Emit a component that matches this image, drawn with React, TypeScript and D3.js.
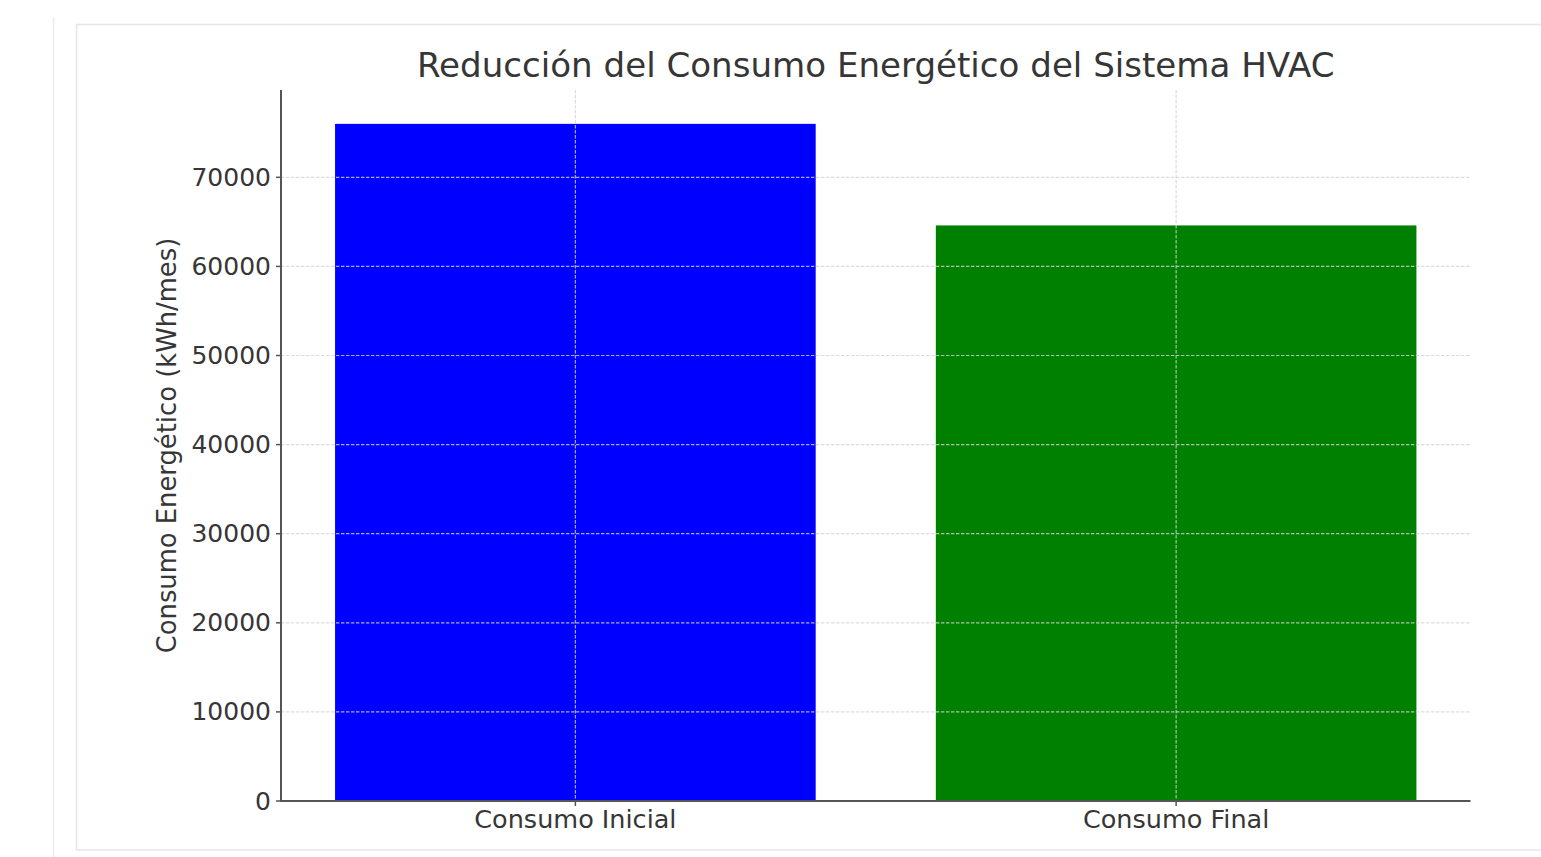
import React from "react";
import * as d3 from "d3";

const categories: string[] = ["Consumo Inicial", "Consumo Final"];
const values: number[] = [76000, 64600];
const barColors: string[] = ["#0000ff", "#008000"];
const yTicks: number[] = [0, 10000, 20000, 30000, 40000, 50000, 60000, 70000];
const title = "Reducción del Consumo Energético del Sistema HVAC";
const yLabel = "Consumo Energético (kWh/mes)";

const W = 1541;
const H = 857;
const left = 281;
const right = 1470.5;
const top = 90;
const bottom = 801;
const FONT = "'DejaVu Sans', sans-serif";
const TEXT = "#363636";

export default function App() {
  const x = d3
    .scaleBand<string>()
    .domain(categories)
    .range([left, right])
    .paddingInner(0.2)
    .paddingOuter(0.09);
  const yMax = d3.max(values)! * 1.05;
  const y = d3.scaleLinear().domain([0, yMax]).range([bottom, top]);

  return (
    <svg
      width={W}
      height={H}
      style={{ position: "absolute", left: 0, top: 0, background: "#fff" }}
    >
      {/* page frame */}
      <line x1={53.5} x2={53.5} y1={17} y2={H} stroke="#ececec" strokeWidth={1.5} />
      <rect x={76.5} y={24.5} width={W} height={825.5} fill="#fff" stroke="#e6e6e6" strokeWidth={1.5} />

      {/* bars */}
      {categories.map((c, i) => (
        <rect
          key={c}
          x={x(c)!}
          y={y(values[i])}
          width={x.bandwidth()}
          height={bottom - y(values[i])}
          fill={barColors[i]}
        />
      ))}

      {/* grid */}
      {yTicks.map((t) => (
        <line
          key={"gy" + t}
          x1={left}
          x2={right}
          y1={y(t)}
          y2={y(t)}
          stroke="#d3d3d3"
          strokeOpacity={0.8}
          strokeWidth={1.2}
          strokeDasharray="3.4,1.6"
        />
      ))}
      {categories.map((c) => (
        <line
          key={"gx" + c}
          x1={x(c)! + x.bandwidth() / 2}
          x2={x(c)! + x.bandwidth() / 2}
          y1={top}
          y2={bottom}
          stroke="#d3d3d3"
          strokeOpacity={0.8}
          strokeWidth={1.2}
          strokeDasharray="3.4,1.6"
        />
      ))}

      {/* spines */}
      <line x1={left} x2={left} y1={top} y2={bottom + 1} stroke="#555" strokeWidth={2} />
      <line x1={left - 1} x2={right} y1={bottom} y2={bottom} stroke="#555" strokeWidth={2} />

      {/* y ticks */}
      {yTicks.map((t) => (
        <g key={"ty" + t}>
          <line x1={left - 5} x2={left} y1={y(t)} y2={y(t)} stroke="#555" strokeWidth={1.5} />
          <text
            x={left - 10}
            y={y(t)}
            textAnchor="end"
            dominantBaseline="central"
            fontFamily={FONT}
            fontSize={25}
            fill={TEXT}
          >
            {t}
          </text>
        </g>
      ))}

      {/* x ticks */}
      {categories.map((c) => (
        <g key={"tx" + c}>
          <line
            x1={x(c)! + x.bandwidth() / 2}
            x2={x(c)! + x.bandwidth() / 2}
            y1={bottom}
            y2={bottom + 5}
            stroke="#555"
            strokeWidth={1.5}
          />
          <text
            x={x(c)! + x.bandwidth() / 2}
            y={828}
            textAnchor="middle"
            fontFamily={FONT}
            fontSize={25.5}
            fill={TEXT}
          >
            {c}
          </text>
        </g>
      ))}

      {/* y label */}
      <text
        transform={`translate(176, ${(top + bottom) / 2}) rotate(-90)`}
        textAnchor="middle"
        fontFamily={FONT}
        fontSize={25.8}
        fill={TEXT}
      >
        {yLabel}
      </text>

      {/* title */}
      <text
        x={(left + right) / 2}
        y={77}
        textAnchor="middle"
        fontFamily={FONT}
        fontSize={34.1}
        fill={TEXT}
      >
        {title}
      </text>
    </svg>
  );
}
